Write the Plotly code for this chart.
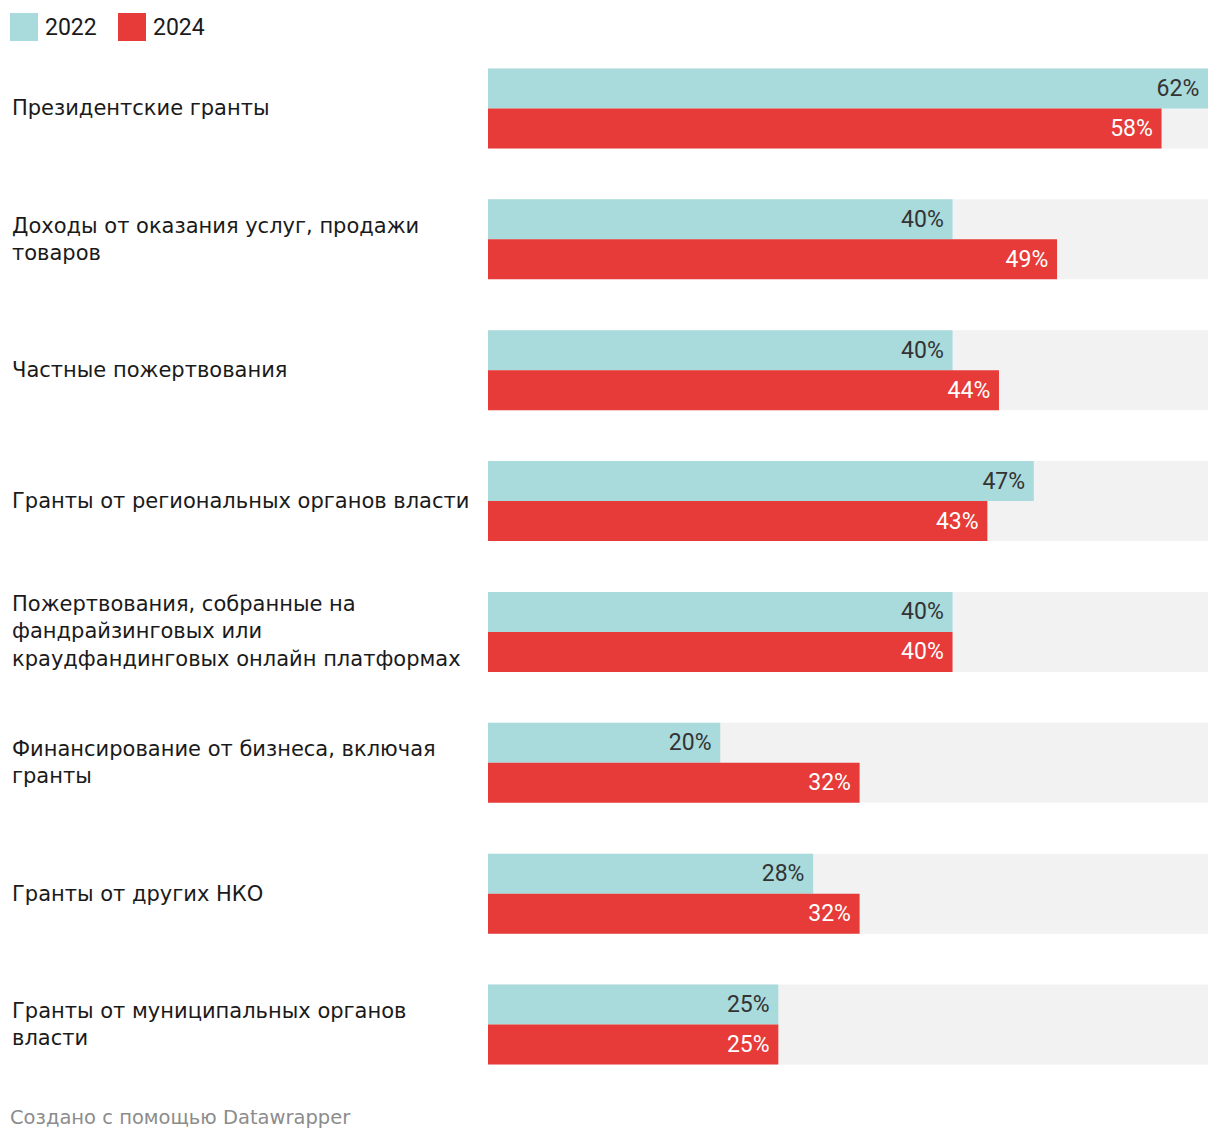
import plotly.graph_objects as go

categories = [
    "Президентские гранты",
    "Доходы от оказания услуг, продажи<br>товаров",
    "Частные пожертвования",
    "Гранты от региональных органов власти",
    "Пожертвования, собранные на<br>фандрайзинговых или<br>краудфандинговых онлайн платформах",
    "Финансирование от бизнеса, включая<br>гранты",
    "Гранты от других НКО",
    "Гранты от муниципальных органов<br>власти",
]
values_2022 = [62, 40, 40, 47, 40, 20, 28, 25]
values_2024 = [58, 49, 44, 43, 40, 32, 32, 25]
series_names = ["2022", "2024"]

COL_2022 = "#a9dadc"
COL_2024 = "#e63b38"
COL_BG = "#f2f2f2"
TXT = "#333333"
LABEL_FONT = "DejaVu Sans"
VAL_FONT = "Roboto"

OFF = 8  # page body margin
W, H = 1220 - OFF, 1142 - OFF
ML, MR, MT, MB = 488 - OFF, 12, 43 - OFF, 52
PW, PH = W - ML - MR, H - MT - MB

n = len(categories)
pitch_px = PH / n
bar_h = 40 / pitch_px
idx = list(range(n))
xmax = max(values_2022 + values_2024)

def px_x(px):  # page px -> paper
    return (px - OFF - ML) / PW

def px_y(py):
    return (H - MB - (py - OFF)) / PH

fig = go.Figure()
fig.add_trace(go.Bar(
    y=idx, x=[xmax] * n, orientation="h", base=0,
    offset=-bar_h, width=2 * bar_h,
    marker=dict(color=COL_BG, line=dict(width=0)),
    hoverinfo="skip", showlegend=False,
))
NB = "\u00a0"
fig.add_trace(go.Bar(
    y=idx, x=values_2022, orientation="h", name=series_names[0],
    offset=-bar_h, width=bar_h,
    marker=dict(color=COL_2022, line=dict(width=0)),
    text=[f"{v}%{NB}" for v in values_2022],
    textposition="inside", insidetextanchor="end",
    textfont=dict(family=VAL_FONT, size=23, color=TXT),
    constraintext="none", showlegend=False,
))
fig.add_trace(go.Bar(
    y=idx, x=values_2024, orientation="h", name=series_names[1],
    offset=0, width=bar_h,
    marker=dict(color=COL_2024, line=dict(width=0)),
    text=[f"{v}%{NB}" for v in values_2024],
    textposition="inside", insidetextanchor="end",
    textfont=dict(family=VAL_FONT, size=23, color="white"),
    constraintext="none", showlegend=False,
))

annotations = []
for i, c in enumerate(categories):
    annotations.append(dict(
        x=px_x(11), xref="paper", y=i, yref="y",
        text=c, showarrow=False, xanchor="left", yanchor="middle",
        align="left", borderpad=0,
        font=dict(family=LABEL_FONT, size=21, color="#1a1a1a"),
    ))

# legend
shapes = []
for name, col, x0 in [(series_names[0], COL_2022, 10), (series_names[1], COL_2024, 118)]:
    shapes.append(dict(
        type="rect", xref="paper", yref="paper",
        x0=px_x(x0), x1=px_x(x0 + 28), y0=px_y(41), y1=px_y(13),
        fillcolor=col, line=dict(width=0),
    ))
    annotations.append(dict(
        x=px_x(x0 + 33), xref="paper", y=px_y(27), yref="paper",
        text=name, showarrow=False, xanchor="left", yanchor="middle",
        font=dict(family=VAL_FONT, size=23, color="#1a1a1a"),
    ))

annotations.append(dict(
    x=px_x(9), xref="paper", y=px_y(1117), yref="paper",
    text="Создано с помощью Datawrapper", showarrow=False,
    xanchor="left", yanchor="middle", borderpad=0,
    font=dict(family=LABEL_FONT, size=19.5, color="#8c8c8c"),
))

fig.update_layout(
    width=W, height=H,
    margin=dict(l=ML, r=MR, t=MT, b=MB, pad=0),
    barmode="overlay",
    plot_bgcolor="white", paper_bgcolor="white",
    xaxis=dict(range=[0, xmax], visible=False, fixedrange=True),
    yaxis=dict(range=[n - 0.5, -0.5], visible=False, fixedrange=True),
    annotations=annotations, shapes=shapes,
    showlegend=False,
)
fig.write_html("out.html")
